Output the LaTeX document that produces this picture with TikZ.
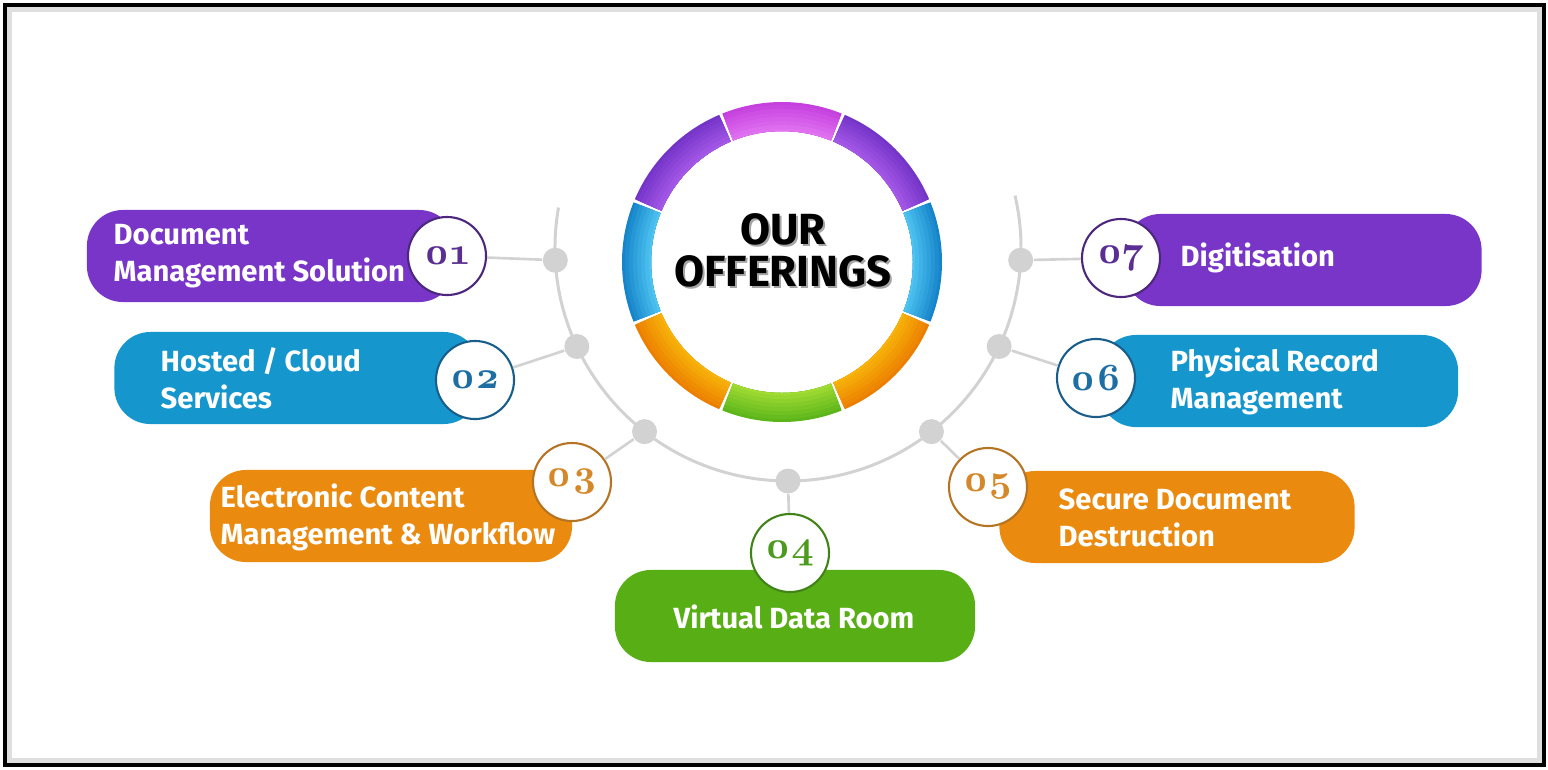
\documentclass[tikz,border=0pt]{standalone}
\usepackage{fontspec}
\setmainfont{Fira Sans}
\newfontfamily\numfont[Numbers=OldStyle]{Latin Modern Roman}
\usetikzlibrary{calc}

\definecolor{purpill}{HTML}{7935C8}
\definecolor{blupill}{HTML}{1597CE}
\definecolor{orapill}{HTML}{EA8A0E}
\definecolor{grepill}{HTML}{58AE15}
\definecolor{purnum}{HTML}{5A2E93}
\definecolor{blunum}{HTML}{1D6FA3}
\definecolor{oranum}{HTML}{D4882A}
\definecolor{grenum}{HTML}{4C9A1E}
\definecolor{magD}{HTML}{C540DE}
\definecolor{magL}{HTML}{E274F2}
\definecolor{purD}{HTML}{7434C8}
\definecolor{purL}{HTML}{A659E8}
\definecolor{bluD}{HTML}{1684CA}
\definecolor{bluL}{HTML}{4FC6F2}
\definecolor{oraD}{HTML}{EC7F00}
\definecolor{oraL}{HTML}{F8B50A}
\definecolor{greD}{HTML}{5CB61A}
\definecolor{greL}{HTML}{A4DC34}
\definecolor{arcgray}{HTML}{D2D2D2}

\tikzset{
  pill/.style={rectangle, rounded corners=0.36cm, fill=#1, minimum height=0.92cm, inner sep=0pt},
  ptext/.style={anchor=west, align=left, text=white, inner sep=0pt,
    font=\bfseries\fontsize{8.3}{10.5}\selectfont},
  numc/.style={circle, draw=#1!85!black, line width=0.6pt, fill=white, text=#1,
    minimum size=0.78cm, inner sep=0pt, font=\numfont\bfseries\fontsize{11}{12}\selectfont},
  dot/.style={circle, fill=arcgray, minimum size=0.25cm, inner sep=0pt},
  conn/.style={draw=arcgray, line width=0.75pt}
}

\begin{document}
\begin{tikzpicture}[x=0.01cm, y=-0.01cm]
  \useasboundingbox (0,0) rectangle (1548,769);
  % frame
  \draw[gray!25, line width=1.5pt] (9,9) rectangle (1540,761);
  \draw[black, line width=1.2pt] (5,5) rectangle (1544,765);

  % ring, each segment shaded in bands from outside to inside
  \coordinate (rc) at (782,262);
  \foreach \a/\ci/\co in {270/magL/magD, 315/purL/purD, 0/bluL/bluD, 45/oraL/oraD,
                          90/greL/greD, 135/oraL/oraD, 180/bluL/bluD, 225/purL/purD}{
    \begin{scope}
      \clip (rc) ++({\a-21.9}:160) arc[start angle={\a-21.9}, end angle={\a+21.9}, radius=160]
        -- ++({\a+21.9}:-29) arc[start angle={\a+21.9}, end angle={\a-21.9}, radius=131] -- cycle;
      \foreach \k in {0,...,7}{
        \pgfmathtruncatemacro\pct{100-\k*14}
        \fill[\co!\pct!\ci] (rc) circle[radius={161-\k*4}];
      }
    \end{scope}
  }
  \node[text=gray!70, align=center, font=\bfseries\fontsize{12.4}{12}\selectfont]
    (ttlsh) at (785,252) {OUR\\OFFERINGS};
  \node[text=black, align=center, font=\bfseries\fontsize{12.4}{12}\selectfont]
    (ttl) at (783,250) {OUR\\OFFERINGS};

  % gray arc and dots
  \coordinate (arcc) at (788,248);
  \draw[arcgray, line width=0.85pt] ($(arcc)+(190:233)$) arc[start angle=190, end angle=-13, radius=233];
  \node[dot] (d1) at ($(arcc)+(177:233)$) {};
  \node[dot] (d2) at ($(arcc)+(155:233)$) {};
  \node[dot] (d3) at ($(arcc)+(128:233)$) {};
  \node[dot] (d4) at ($(arcc)+(90:233)$) {};
  \node[dot] (d5) at ($(arcc)+(52:233)$) {};
  \node[dot] (d6) at ($(arcc)+(25:233)$) {};
  \node[dot] (d7) at ($(arcc)+(3:233)$) {};

  % pills
  \node[pill=purpill, minimum width=3.68cm] (p1) at (271,256) {};
  \node[pill=blupill, minimum width=3.65cm] (p2) at (297,378) {};
  \node[pill=orapill, minimum width=3.62cm] (p3) at (391,516) {};
  \node[pill=grepill, minimum width=3.60cm] (p4) at (795,616) {};
  \node[pill=orapill, minimum width=3.55cm] (p5) at (1177,517) {};
  \node[pill=blupill, minimum width=3.58cm] (p6) at (1279,381) {};
  \node[pill=purpill, minimum width=3.57cm] (p7) at (1303,260) {};

  \node[ptext] (t1) at (113,256) {Document\\Management Solution};
  \node[ptext] (t2) at (160,378) {Hosted / Cloud\\Services};
  \node[ptext] (t3) at (220,517) {Electronic Content\\Management \& Workflow};
  \node[ptext, anchor=center] (t4) at (794,617) {Virtual Data Room};
  \node[ptext] (t5) at (1058,518) {Secure Document\\Destruction};
  \node[ptext] (t6) at (1170,381) {Physical Record\\Management};
  \node[ptext] (t7) at (1180,258) {Digitisation};

  % numbers
  \node[numc=purnum] (n1) at (447,256) {01};
  \node[numc=blunum] (n2) at (475,380) {02};
  \node[numc=oranum] (n3) at (572,482) {03};
  \node[numc=grenum] (n4) at (790,553) {04};
  \node[numc=oranum] (n5) at (988,487) {05};
  \node[numc=blunum] (n6) at (1096,378) {06};
  \node[numc=purnum] (n7) at (1121,258) {07};

  \foreach \i in {1,...,7}
    \draw[conn] (d\i) -- (n\i);
\end{tikzpicture}
\end{document}
